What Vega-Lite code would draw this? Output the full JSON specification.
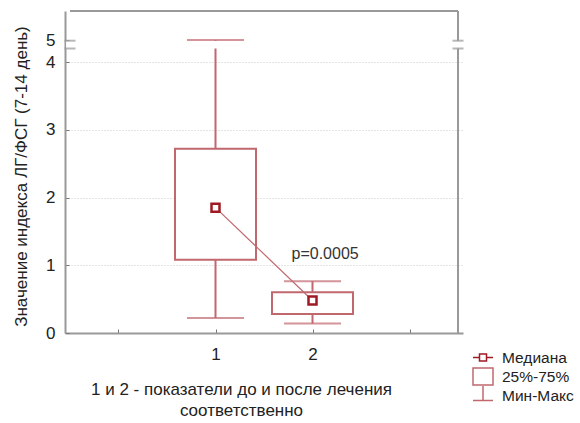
{
  "$schema": "https://vega.github.io/schema/vega-lite/v6.json",
  "width": 398,
  "height": 322,
  "autosize": {"type": "none"},
  "padding": {"left": 65, "top": 11, "right": 117, "bottom": 90},
  "background": "white",
  "config": {
    "view": {"stroke": null},
    "font": "Liberation Sans"
  },
  "datasets": {
    "boxes": [
      {"group": 1, "min": 0.22, "q1": 1.08, "median": 1.85, "q3": 2.72, "max": 5},
      {"group": 2, "min": 0.14, "q1": 0.28, "median": 0.48, "q3": 0.6, "max": 0.765}
    ],
    "breaks": [{"y": 4.2}, {"y": 4.99}],
    "legend": [{"kind": "Медиана"}, {"kind": "25%-75%"}, {"kind": "Мин-Макс"}],
    "note": [{"group": 2.13, "y": 1.17, "text": "p=0.0005"}]
  },
  "layer": [
    {
      "data": {"name": "boxes"},
      "mark": {"type": "rule", "color": "#c0686e", "strokeWidth": 2},
      "encoding": {
        "x": {
          "field": "group", "type": "quantitative",
          "scale": {"domain": [-0.5, 3.5], "nice": false, "zero": false},
          "axis": {
            "values": [0, 1, 2, 3],
            "format": "d",
            "labelExpr": "datum.value == 1 || datum.value == 2 ? datum.label : ''",
            "grid": false,
            "domainColor": "#999", "domainWidth": 2,
            "tickColor": "#777", "tickSize": -4, "tickWidth": 1,
            "labelFontSize": 17, "labelColor": "#222", "labelPadding": 17,
            "title": ["1 и 2 - показатели до и после лечения", "соответственно"],
            "titleFontSize": 17, "titleFontWeight": "normal", "titleColor": "#222",
            "titleX": 176, "titleY": 48, "titleBaseline": "top", "titleAlign": "center",
            "titleLineHeight": 21
          }
        },
        "y": {
          "field": "min", "type": "quantitative",
          "scale": {"domain": [0, 4.2, 4.99, 5.43], "range": [322, 37.5, 29.7, 0], "nice": false, "zero": false},
          "axis": {
            "values": [0, 1, 2, 3, 4, 5],
            "format": "d",
            "grid": true, "gridDash": [1, 2], "gridColor": "#c8c8c8", "gridWidth": 1,
            "gridOpacity": {"condition": {"test": "datum.value == 0 || datum.value == 5", "value": 0}, "value": 1},
            "domainColor": "#999", "domainWidth": 2,
            "tickColor": "#777", "tickSize": -4, "tickWidth": 1,
            "labelFontSize": 17, "labelColor": "#222", "labelPadding": 14,
            "title": "Значение индекса ЛГ/ФСГ (7-14 день)",
            "titleFontSize": 17, "titleFontWeight": "normal", "titleColor": "#222",
            "titleX": -39, "titleY": 165, "titleBaseline": "alphabetic", "titleAlign": "center", "titleAngle": -90
          }
        },
        "y2": {"field": "max"}
      }
    },
    {
      "data": {"values": [{}]},
      "mark": {"type": "rule", "color": "#999", "strokeWidth": 2},
      "encoding": {
        "x": {"datum": 3.5, "type": "quantitative"},
        "y": {"datum": 0, "type": "quantitative"},
        "y2": {"datum": 5.43}
      }
    },
    {
      "data": {"values": [{}]},
      "mark": {"type": "rule", "color": "#999", "strokeWidth": 2},
      "encoding": {
        "x": {"datum": -0.5, "type": "quantitative"},
        "x2": {"datum": 3.5},
        "y": {"datum": 5.43, "type": "quantitative"}
      }
    },
    {
      "data": {"values": [{}]},
      "mark": {"type": "rect", "color": "white"},
      "encoding": {
        "x": {"datum": -0.54, "type": "quantitative"},
        "x2": {"datum": 3.54},
        "y": {"datum": 4.2, "type": "quantitative"},
        "y2": {"datum": 4.99}
      }
    },
    {
      "data": {"name": "boxes"},
      "mark": {"type": "tick", "orient": "horizontal", "size": 57, "thickness": 2, "color": "#c0686e"},
      "encoding": {
        "x": {"field": "group", "type": "quantitative"},
        "y": {"field": "max", "type": "quantitative"}
      }
    },
    {
      "data": {"name": "boxes"},
      "mark": {"type": "tick", "orient": "horizontal", "size": 57, "thickness": 2, "color": "#c0686e"},
      "encoding": {
        "x": {"field": "group", "type": "quantitative"},
        "y": {"field": "min", "type": "quantitative"}
      }
    },
    {
      "data": {"name": "boxes"},
      "mark": {"type": "bar", "width": 81, "fill": "white", "stroke": "#c0686e", "strokeWidth": 2},
      "encoding": {
        "x": {"field": "group", "type": "quantitative"},
        "y": {"field": "q1", "type": "quantitative"},
        "y2": {"field": "q3"}
      }
    },
    {
      "data": {"name": "boxes"},
      "mark": {"type": "line", "color": "#c0686e", "strokeWidth": 1.2},
      "encoding": {
        "x": {"field": "group", "type": "quantitative"},
        "y": {"field": "median", "type": "quantitative"}
      }
    },
    {
      "data": {"name": "boxes"},
      "mark": {"type": "point", "shape": "square", "size": 64, "filled": true, "fill": "white", "stroke": "#9e1b24", "strokeWidth": 2.5, "opacity": 1},
      "encoding": {
        "x": {"field": "group", "type": "quantitative"},
        "y": {"field": "median", "type": "quantitative"}
      }
    },
    {
      "data": {"name": "breaks"},
      "mark": {"type": "tick", "orient": "horizontal", "size": 11, "thickness": 2, "color": "#999"},
      "encoding": {
        "x": {"datum": -0.5, "type": "quantitative"},
        "y": {"field": "y", "type": "quantitative"}
      }
    },
    {
      "data": {"name": "breaks"},
      "mark": {"type": "tick", "orient": "horizontal", "size": 11, "thickness": 2, "color": "#999"},
      "encoding": {
        "x": {"datum": 3.5, "type": "quantitative"},
        "y": {"field": "y", "type": "quantitative"}
      }
    },
    {
      "data": {"name": "note"},
      "mark": {"type": "text", "fontSize": 16, "color": "#333", "align": "center", "baseline": "middle"},
      "encoding": {
        "x": {"field": "group", "type": "quantitative"},
        "y": {"field": "y", "type": "quantitative"},
        "text": {"field": "text"}
      }
    },
    {
      "data": {"name": "legend"},
      "mark": {"type": "point", "filled": true, "fill": "white", "strokeWidth": 1.5, "opacity": 1},
      "encoding": {
        "x": {"field": "nx", "type": "quantitative"},
        "y": {"field": "ny", "type": "quantitative"},
        "shape": {
          "field": "kind", "type": "nominal",
          "scale": {
            "domain": ["Медиана", "25%-75%", "Мин-Макс"],
            "range": ["M-1,0H-0.35M0.35,0H1M-0.35,-0.35H0.35V0.35H-0.35Z", "M-1,-0.85H1V0.85H-1Z", "M0,-1V0.5M-1,0.5H1"]
          },
          "legend": {"title": null, "orient": "none", "legendX": 407, "legendY": 337, "symbolSize": 400, "symbolStrokeWidth": 1.5, "labelFontSize": 15.5, "labelColor": "#222", "labelOffset": 8, "rowPadding": 0, "clipHeight": 19, "padding": 0, "symbolFillColor": "white"}
        },
        "stroke": {
          "field": "kind", "type": "nominal",
          "scale": {
            "domain": ["Медиана", "25%-75%", "Мин-Макс"],
            "range": ["#9e1b24", "#c0686e", "#c0686e"]
          },
          "legend": {"title": null, "orient": "none", "legendX": 407, "legendY": 337, "symbolSize": 400, "symbolStrokeWidth": 1.5, "labelFontSize": 15.5, "labelColor": "#222", "labelOffset": 8, "rowPadding": 0, "clipHeight": 19, "padding": 0, "symbolFillColor": "white"}
        }
      }
    }
  ]
}
